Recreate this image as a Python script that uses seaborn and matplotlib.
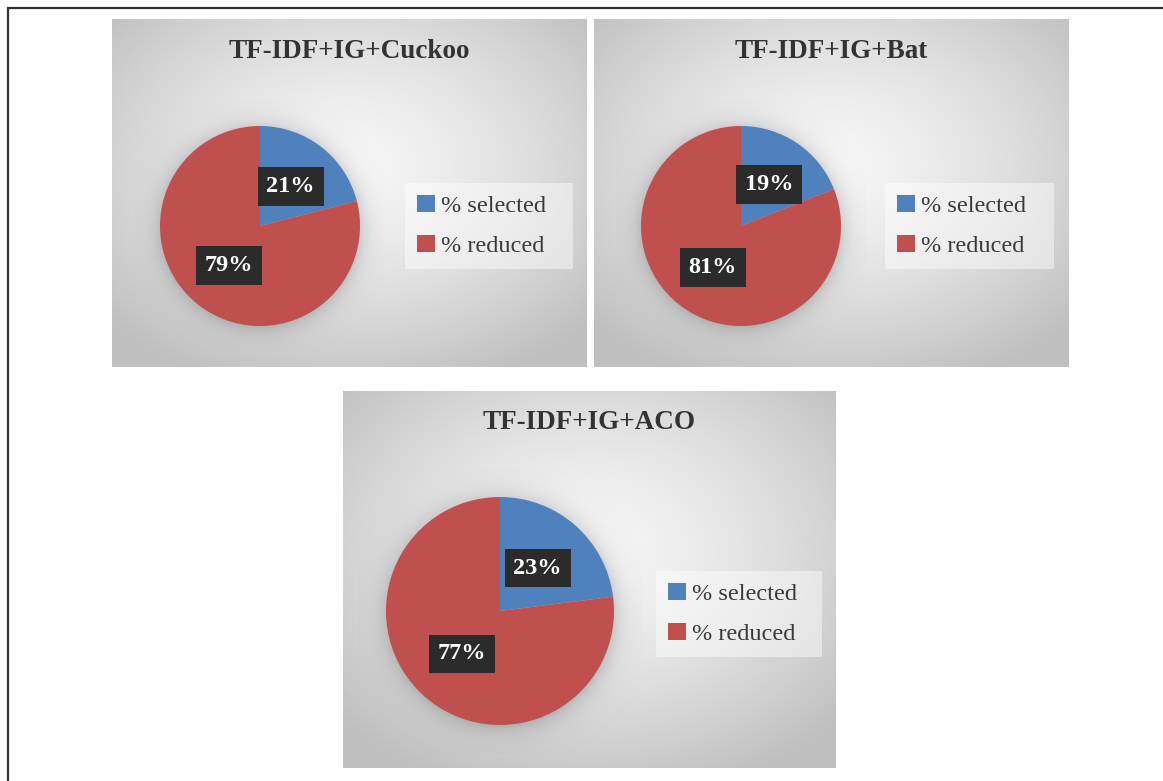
import numpy as np
import matplotlib
matplotlib.use("Agg")
import matplotlib.pyplot as plt
import seaborn as sns

# Feature-selection results for each hybrid method
methods = ["TF-IDF+IG+Cuckoo", "TF-IDF+IG+Bat", "TF-IDF+IG+ACO"]
categories = ["% selected", "% reduced"]
selected = [21, 19, 23]
reduced = [79, 81, 77]

sns.set_theme(style="white")
plt.rcParams["font.family"] = ["Liberation Serif", "DejaVu Serif"]

colors = sns.color_palette(["#4f81bd", "#c0504d"])

W, H = 1163, 781
fig = plt.figure(figsize=(W / 100, H / 100), dpi=100)
fig.patch.set_facecolor("white")


def rect(x0, y0, x1, y1):
    return [x0 / W, 1 - y1 / H, (x1 - x0) / W, (y1 - y0) / H]


# panel boxes (pixels), pie centre and radius, legend box left/top/width
panels = [
    dict(box=(112, 19, 587, 367), pie=(260, 226, 100), leg=(405, 183, 168)),
    dict(box=(594, 19, 1068, 367), pie=(741, 226, 100), leg=(885, 183, 169)),
    dict(box=(343, 391, 836, 768), pie=(500, 611, 114), leg=(656, 571, 166)),
]


def gradient(w, h):
    yy, xx = np.mgrid[0:h, 0:w]
    dx = (xx - 0.5 * w) / (0.5 * w)
    dy = (yy - 0.42 * h) / (0.5 * h)
    t = np.clip(np.sqrt(dx ** 2 + dy ** 2) / 1.35, 0, 1) ** 1.4
    light, dark = 0.965, 0.75
    v = light - (light - dark) * t
    return np.dstack([v, v, v])


for p, name, s, r in zip(panels, methods, selected, reduced):
    x0, y0, x1, y1 = p["box"]
    bg = fig.add_axes(rect(x0, y0, x1, y1))
    bg.imshow(gradient(x1 - x0, y1 - y0), aspect="auto",
              extent=(0, 1, 0, 1), interpolation="bilinear")
    bg.set_xlim(0, 1)
    bg.set_ylim(0, 1)
    bg.axis("off")
    bg.text(0.5, 1 - 32 / (y1 - y0), name, ha="center", va="center",
            fontsize=19.5, fontweight="bold", color="#333333",
            transform=bg.transAxes)

    cx, cy, rad = p["pie"]
    ext = 1.25
    pa = fig.add_axes(rect(cx - rad * ext, cy - rad * ext,
                           cx + rad * ext, cy + rad * ext))
    # soft halo around the pie
    n = 300
    g = np.linspace(-ext, ext, n)
    X, Y = np.meshgrid(g, g)
    d = np.sqrt(X ** 2 + (Y + 0.02) ** 2)
    alpha = np.where(d > 0.98, 0.35 * np.exp(-(d - 0.98) / 0.09), 0.35)
    halo = np.zeros((n, n, 4))
    halo[..., :3] = 0.45
    halo[..., 3] = alpha
    pa.imshow(halo, extent=(-ext, ext, -ext, ext), origin="lower",
              interpolation="bilinear", zorder=0)

    wedges, _, autotexts = pa.pie(
        [s, r], colors=colors, startangle=90, counterclock=False,
        radius=1, autopct="%1.0f%%", pctdistance=0.5,
        wedgeprops=dict(linewidth=0), textprops=dict(color="white"))
    for at in autotexts:
        at.set_fontsize(17.5)
        at.set_fontweight("bold")
        at.set_zorder(5)
        at.set_bbox(dict(boxstyle="square,pad=0.36", facecolor="#2b2b2b",
                         edgecolor="none"))
    pa.set_xlim(-ext, ext)
    pa.set_ylim(-ext, ext)
    pa.set_aspect("equal")
    pa.axis("off")

    lx, ly, lw = p["leg"]
    leg = pa.legend(wedges, categories, loc="upper left",
                    bbox_to_anchor=(lx / W, 1 - ly / H - 0.2, lw / W, 0.2),
                    bbox_transform=fig.transFigure, mode="expand",
                    fontsize=17.5,
                    frameon=True, fancybox=False, framealpha=0.45,
                    facecolor="white", edgecolor="none",
                    handlelength=0.72, handleheight=0.72,
                    handletextpad=0.28, labelspacing=0.72,
                    borderpad=0.5, borderaxespad=0)
    for t in leg.get_texts():
        t.set_color("#3a3a3a")

# outer frame lines along the top and left
frame = fig.add_axes([0, 0, 1, 1], facecolor="none")
frame.set_xlim(0, W)
frame.set_ylim(H, 0)
frame.axis("off")
frame.plot([7, W], [8, 8], color="#333333", lw=1.6, solid_capstyle="butt")
frame.plot([8, 8], [7, H], color="#333333", lw=1.6, solid_capstyle="butt")

fig.savefig("out.png", dpi=100)
